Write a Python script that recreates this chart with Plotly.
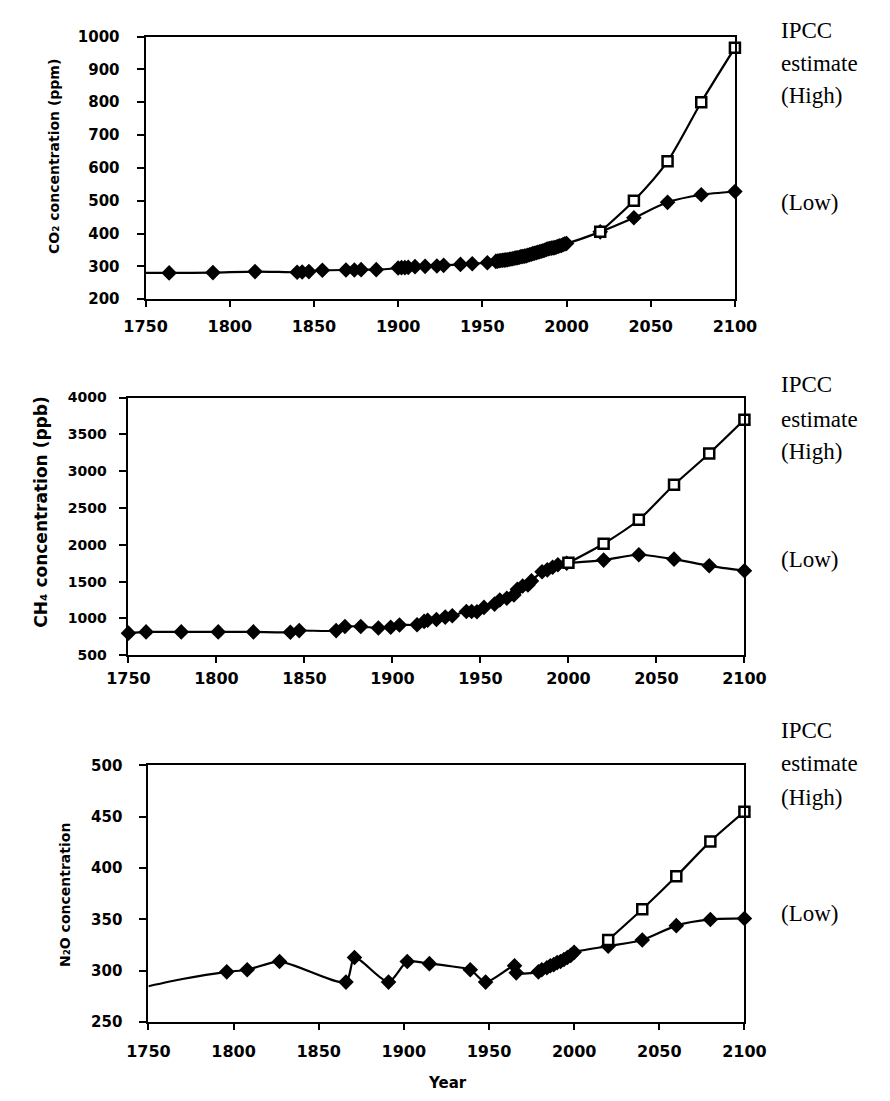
import plotly.graph_objects as go

# ---------------- data ----------------
# CO2 (ppm)
co2_years = [1750, 1764, 1790, 1815, 1840, 1843, 1847, 1855, 1869, 1874, 1878, 1887,
             1900, 1902, 1904, 1906, 1910, 1916, 1923, 1927, 1937, 1944, 1953, 1958,
             1959, 1960, 1961, 1962, 1963, 1964, 1965, 1966, 1967, 1968, 1969, 1970,
             1971, 1972, 1973, 1974, 1975, 1976, 1977, 1978, 1979, 1980, 1981, 1982,
             1983, 1984, 1985, 1986, 1987, 1988, 1989, 1990, 1991, 1992, 1993, 1994,
             1995, 1996, 1997, 1998, 1999, 2000, 2020, 2040, 2060, 2080, 2100]
co2_low = [280, 280, 281, 284, 282, 283, 284, 288, 289, 289, 290, 290,
           295, 296, 296, 297, 299, 300, 301, 303, 306, 308, 311, 315,
           316.0, 316.9, 317.6, 318.5, 319.0, 319.6, 320.0, 321.4, 322.2, 323.0, 324.6, 325.7,
           326.3, 327.5, 329.7, 330.2, 331.1, 332.0, 333.8, 335.4, 336.8, 338.7, 340.1, 341.4,
           343.0, 344.6, 346.0, 347.4, 349.2, 351.6, 353.1, 354.4, 355.6, 356.4, 357.1, 358.8,
           360.8, 362.6, 363.7, 366.6, 368.3, 369.5, 405, 448, 495, 518, 528]
co2_marker_on = [0] + [1] * (len(co2_years) - 1)
co2_high_years = [2020, 2040, 2060, 2080, 2100]
co2_high = [405, 500, 620, 800, 966]

# CH4 (ppb)
ch4_years = [1750, 1760, 1780, 1801, 1821, 1842, 1847, 1868, 1873, 1882, 1892, 1899,
             1904, 1914, 1918, 1920, 1925, 1930, 1934, 1942, 1945, 1948, 1952, 1958,
             1961, 1965, 1969, 1971, 1974, 1977, 1979, 1985, 1988, 1991, 1994, 1999,
             2020, 2040, 2060, 2080, 2100]
ch4_low = [800, 817, 817, 817, 817, 813, 835, 835, 890, 890, 870, 880,
           910, 915, 960, 975, 985, 1018, 1037, 1095, 1095, 1090, 1150, 1195,
           1250, 1275, 1320, 1395, 1440, 1455, 1510, 1635, 1660, 1695, 1730, 1750,
           1792, 1865, 1805, 1715, 1648]
ch4_marker_on = [1] * len(ch4_years)
ch4_high_years = [2000, 2020, 2040, 2060, 2080, 2100]
ch4_high = [1756, 2015, 2340, 2815, 3240, 3700]

# N2O (ppb)
n2o_years = [1750, 1770, 1796, 1808, 1827, 1866, 1871, 1891, 1902, 1915, 1925, 1939,
             1948, 1965, 1966, 1979, 1981, 1984, 1986, 1988, 1990, 1992, 1994, 1996,
             1998, 2000, 2020, 2040, 2060, 2080, 2100]
n2o_low = [285, 292, 299, 301, 309, 289, 313, 289, 309, 307, 305, 301,
           289, 305, 298, 299, 301, 303, 305, 306, 308, 309, 311, 313,
           315, 318, 324, 330, 344, 350, 351]
n2o_marker_on = [0, 0, 1, 1, 1, 1, 1, 1, 1, 1, 0, 1,
                 1, 1, 1, 1, 1, 1, 1, 1, 1, 1, 1, 1,
                 1, 1, 1, 1, 1, 1, 1]
n2o_high_years = [2020, 2040, 2060, 2080, 2100]
n2o_high = [330, 360, 392, 426, 455]

x_ticks = [1750, 1800, 1850, 1900, 1950, 2000, 2050, 2100]
right_labels = ["IPCC", "estimate", "(High)", "(Low)"]
y_titles = ["CO\u2082 concentration (ppm)", "CH\u2084 concentration (ppb)", "N\u2082O concentration"]

# ---------------- figure ----------------
W, H = 890, 1101
fig = go.Figure()

DIAMOND = 12
SQUARE = 10

def add_panel(xa, ya, yrs, low, marker_on, high_yrs, high):
    sizes = [DIAMOND if m else 0 for m in marker_on]
    fig.add_trace(go.Scatter(
        x=yrs, y=low, mode="lines+markers", xaxis=xa, yaxis=ya,
        line=dict(color="black", width=2.2, shape="spline", smoothing=0.7),
        marker=dict(symbol="diamond", size=sizes, color="black", opacity=1,
                    line=dict(color="black", width=0)),
        cliponaxis=False, showlegend=False))
    fig.add_trace(go.Scatter(
        x=high_yrs, y=high, mode="lines+markers", xaxis=xa, yaxis=ya,
        line=dict(color="black", width=2.2, shape="spline", smoothing=0.7),
        marker=dict(symbol="square", size=SQUARE, color="white", opacity=1,
                    line=dict(color="black", width=2.5)),
        cliponaxis=False, showlegend=False))

add_panel("x", "y", co2_years, co2_low, co2_marker_on, co2_high_years, co2_high)
add_panel("x2", "y2", ch4_years, ch4_low, ch4_marker_on, ch4_high_years, ch4_high)
add_panel("x3", "y3", n2o_years, n2o_low, n2o_marker_on, n2o_high_years, n2o_high)

def tfont(size):
    return dict(family="DejaVu Sans", size=size, color="black", weight="bold")

def xaxis(dom, anchor, standoff):
    return dict(domain=dom, anchor=anchor, range=[1750, 2100], tickvals=x_ticks,
                ticks="outside", ticklen=6, tickwidth=2, tickcolor="black",
                showline=True, linecolor="black", linewidth=2, mirror=True,
                showgrid=False, zeroline=False, tickfont=tfont(16),
                ticklabelstandoff=standoff)

def yaxis(dom, anchor, rng, dtick, size, standoff):
    return dict(domain=dom, anchor=anchor, range=rng, dtick=dtick, tick0=rng[0],
                ticks="outside", ticklen=7, tickwidth=2, tickcolor="black",
                showline=True, linecolor="black", linewidth=2, mirror=True,
                showgrid=False, zeroline=False, tickfont=tfont(size),
                ticklabelstandoff=standoff)

def px_x(p):
    return p / W

def px_y(p):
    return 1 - p / H

fig.update_layout(
    width=W, height=H, margin=dict(l=0, r=0, t=0, b=0),
    paper_bgcolor="white", plot_bgcolor="white",
    xaxis=xaxis([px_x(130), px_x(750)], "y", 6),
    yaxis=yaxis([px_y(295), px_y(28)], "x", [200, 1000], 100, 15, 14),
    xaxis2=xaxis([px_x(112), px_x(760)], "y2", 2),
    yaxis2=yaxis([px_y(657), px_y(395)], "x2", [500, 4000], 500, 14, 10),
    xaxis3=xaxis([px_x(133), px_x(760)], "y3", 8),
    yaxis3=yaxis([px_y(1030), px_y(769)], "x3", [250, 500], 50, 15, 14),
)

ann = []
# y axis titles
ann.append(dict(text=y_titles[0], x=px_x(33), y=px_y(150),
                textangle=-90, font=dict(family="DejaVu Sans", size=14, weight="bold")))
ann.append(dict(text=y_titles[1], x=px_x(20), y=px_y(512),
                textangle=-90, font=dict(family="DejaVu Sans", size=17, weight="bold")))
ann.append(dict(text=y_titles[2], x=px_x(45), y=px_y(901),
                textangle=-90, font=dict(family="DejaVu Sans", size=14, weight="bold")))
ann.append(dict(text="Year", x=px_x(448), y=px_y(1092),
                font=dict(family="DejaVu Sans", size=15, weight="bold")))

# right side labels (IPCC, estimate, (High), (Low)) per panel, y centres in px
right_pos = [[22, 55, 88, 197], [382, 417, 450, 560], [733, 767, 802, 920]]
for ys in right_pos:
    for txt, yy in zip(right_labels, ys):
        ann.append(dict(text=txt, x=px_x(796), y=px_y(yy), xanchor="left",
                        font=dict(family="Liberation Serif", size=23)))

for a in ann:
    a.setdefault("xanchor", "center")
    a.update(xref="paper", yref="paper", yanchor="middle", showarrow=False)
    a["font"].setdefault("color", "black")
fig.update_layout(annotations=ann)

fig.write_html("out.html")
